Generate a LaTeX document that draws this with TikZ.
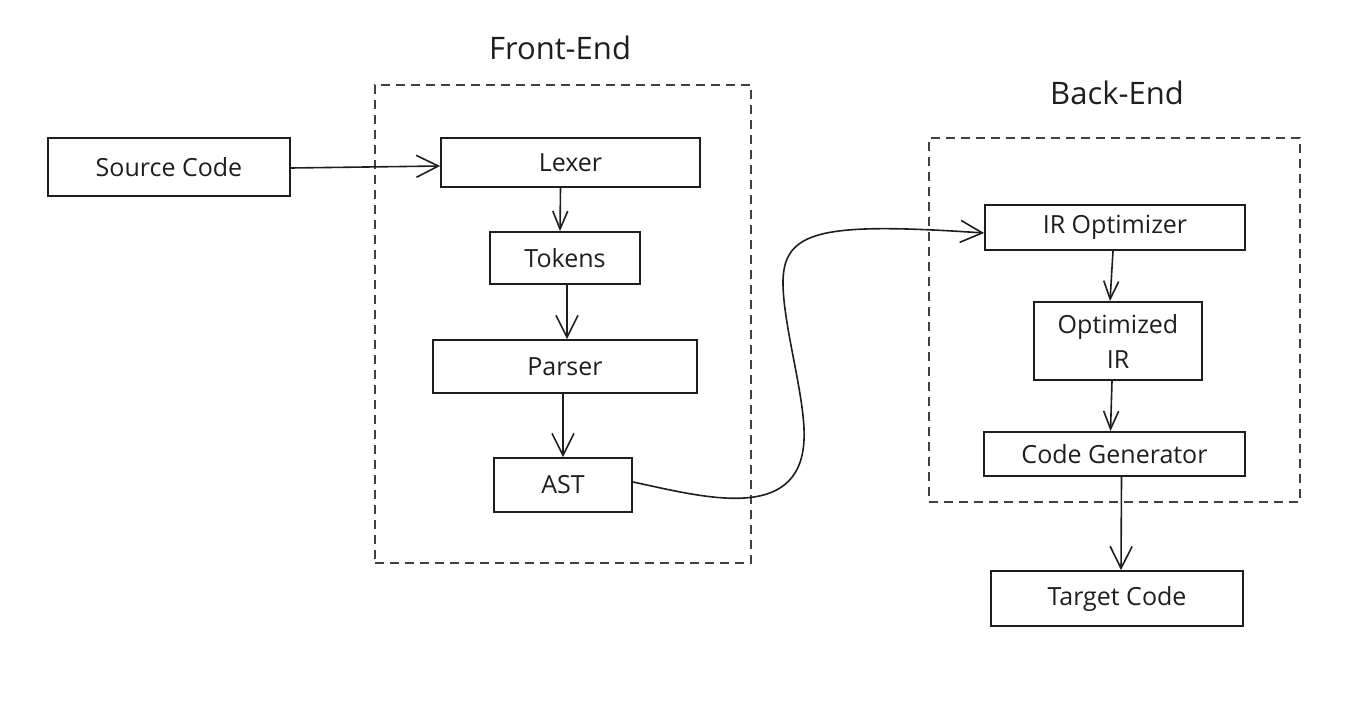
\documentclass[tikz,border=0pt]{standalone}
\usepackage{fontspec}
\setmainfont{Open Sans}
\usetikzlibrary{arrows.meta}
\definecolor{ink}{HTML}{1E1E1E}
\tikzset{
  box/.style={draw=ink, line width=1.8pt, rectangle, inner sep=0pt, align=center,
    font=\fontsize{25}{31}\selectfont, text=ink},
  group/.style={draw=ink!85, line width=1.4pt, dash pattern=on 9pt off 6pt, rectangle, inner sep=0pt},
  title/.style={font=\fontsize{31}{36}\selectfont, text=ink},
  arr/.style={draw=ink, line width=1.6pt, -{Straight Barb[length=22pt,width=22pt,line width=1.6pt]}},
  arrs/.style={draw=ink, line width=1.6pt, -{Straight Barb[length=18pt,width=15pt,line width=1.6pt]}}
}
\begin{document}
\begin{tikzpicture}[x=1pt,y=-1pt]
\useasboundingbox (0,0) rectangle (1367,715);
% groups
\node[group, minimum width=376pt, minimum height=478pt] (front) at (563,324) {};
\node[group, minimum width=371pt, minimum height=364pt] (back) at (1114.5,320) {};
\node[title] (fronttitle) at (560,48) {Front-End};
\node[title] (backtitle) at (1117,93) {Back-End};
% boxes
\node[box, minimum width=242pt, minimum height=58pt] (source) at (169,167) {Source Code};
\node[box, minimum width=259pt, minimum height=49pt] (lexer) at (570.5,162.5) {Lexer};
\node[box, minimum width=150pt, minimum height=52pt] (tokens) at (565,258) {Tokens};
\node[box, minimum width=264pt, minimum height=53pt] (parser) at (565,366.5) {Parser};
\node[box, minimum width=138pt, minimum height=54pt] (ast) at (563,485) {AST};
\node[box, minimum width=260pt, minimum height=45pt] (irop) at (1115,227.5) {IR Optimizer};
\node[box, minimum width=168pt, minimum height=78pt, font=\fontsize{25}{35}\selectfont] (optir) at (1118,341) {Optimized\\IR};
\node[box, minimum width=261pt, minimum height=44pt] (codegen) at (1114.5,454) {Code Generator};
\node[box, minimum width=252pt, minimum height=55pt] (target) at (1117,598.5) {Target Code};
% connectors
\draw[arr] ([yshift=-1pt]source.east) -- ([yshift=-3.5pt]lexer.west);
\draw[arrs] ([xshift=-10pt]lexer.south) -- ([xshift=-5pt]tokens.north);
\draw[arr] ([xshift=2pt]tokens.south) -- ([xshift=2pt]parser.north);
\draw[arr] ([xshift=-2pt]parser.south) -- ([xshift=0pt]ast.north);
\draw[line width=1.6pt, draw=ink, -{Straight Barb[length=22pt,width=22pt,line width=1.6pt]}]
  ([yshift=3pt]ast.east) .. controls (700,496) and (800,525) .. (804,440)
  .. controls (806,400) and (784,330) .. (783,285)
  .. controls (782,230) and (820,222) .. ([yshift=-5.5pt]irop.west);
\draw[arrs] ([xshift=-2pt]irop.south) -- ([xshift=-8pt]optir.north);
\draw[arrs] ([xshift=-6pt]optir.south) -- ([xshift=-4pt]codegen.north);
\draw[arr] ([xshift=7pt]codegen.south) -- ([xshift=4pt]target.north);
\end{tikzpicture}
\end{document}
